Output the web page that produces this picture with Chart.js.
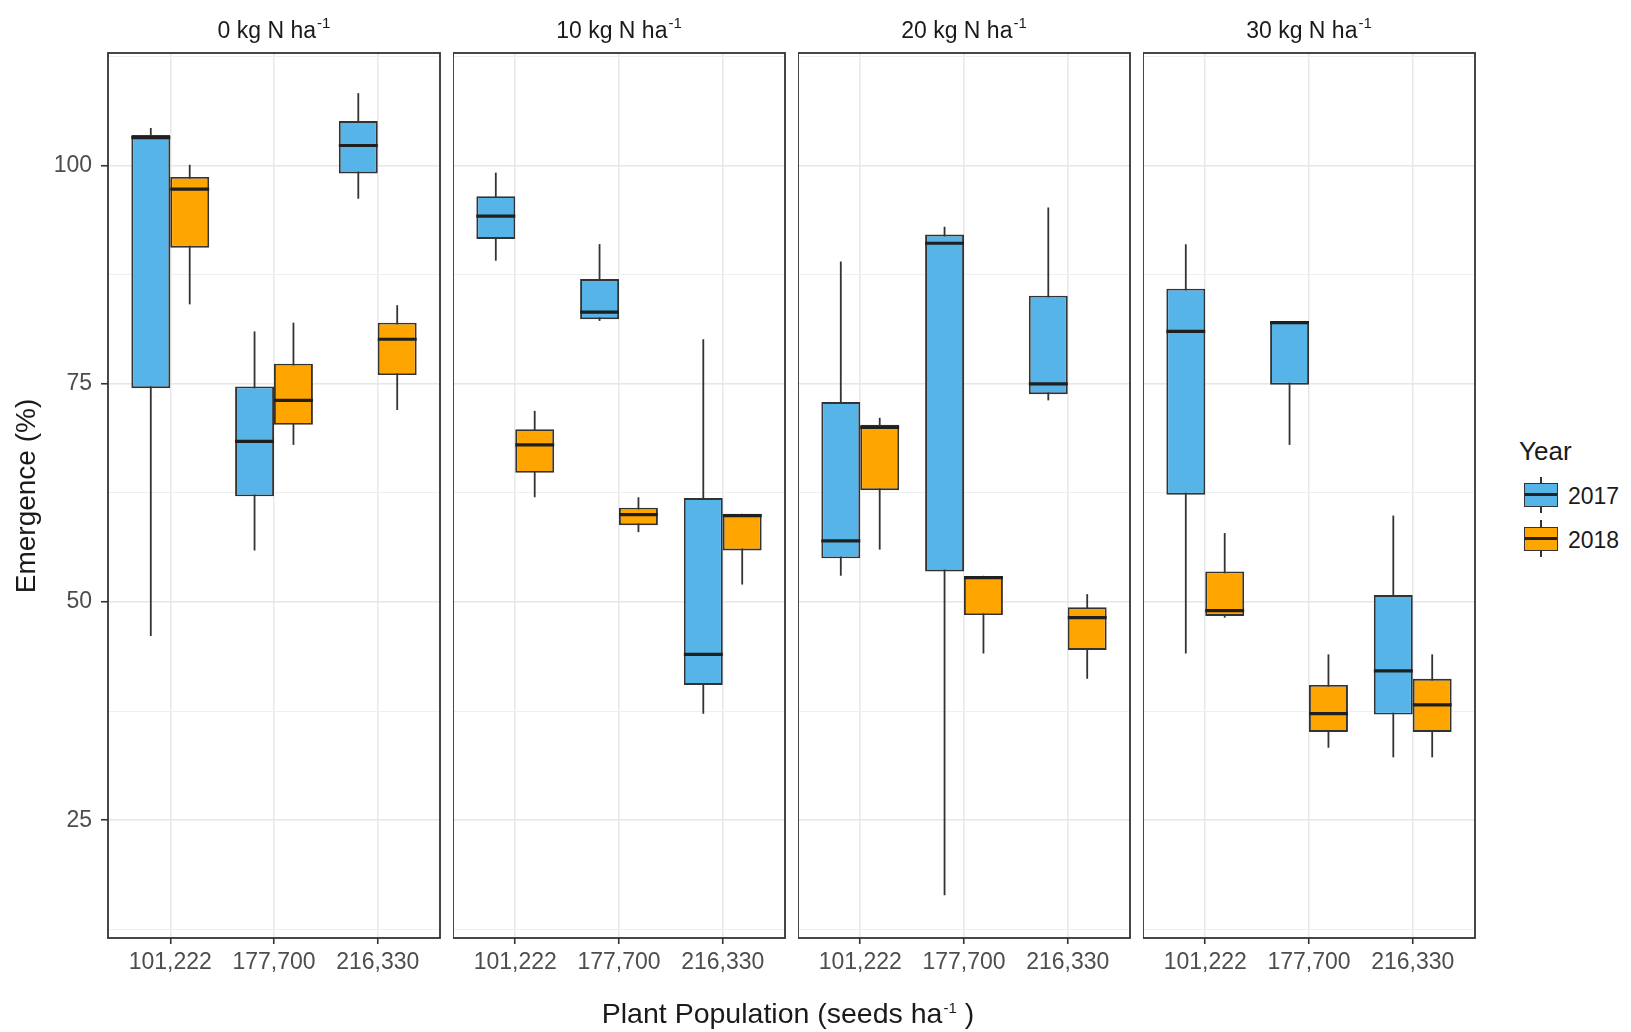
<!DOCTYPE html>
<html>
<head>
<meta charset="utf-8">
<script src="https://cdn.jsdelivr.net/npm/chart.js@4.4.0/dist/chart.umd.min.js"></script>
<style>
  body { margin: 0; background: #fff; width: 1631px; height: 1032px; position: relative; overflow: hidden;
         font-family: "Liberation Sans", Arial, sans-serif; }
  .wrap { position: absolute; }
  .strip { position: absolute; top: 15px; width: 332px; text-align: center; font-size: 23px; color: #1a1a1a; line-height: 30px; }
  .strip sup, .xtitle sup { font-size: 15px; vertical-align: 10px; line-height: 0; margin-left: 1px; }
  .ytitle { position: absolute; left: -124px; top: 480px; width: 300px; text-align: center; font-size: 28px;
            color: #1a1a1a; line-height: 32px; transform: rotate(-90deg); }
  .xtitle { position: absolute; left: 488px; top: 996px; width: 600px; text-align: center; font-size: 28.5px;
            color: #1a1a1a; line-height: 34px; }
  .legtitle { position: absolute; left: 1519px; top: 436px; font-size: 26px; color: #1a1a1a; }
  .key { position: absolute; left: 1524px; width: 34px; height: 24px; border: 1.8px solid #333; box-sizing: border-box; }
  .whisk { position: absolute; left: 1540px; width: 1.8px; background: #333; }
  .med { position: absolute; left: 0; right: 0; top: 9.3px; height: 2.6px; background: #222; }
  .leglab { position: absolute; left: 1568px; font-size: 23px; color: #1a1a1a; }
</style>
</head>
<body>
<script>
// facets, x categories and groups
const nRates = ['0', '10', '20', '30'];
const populations = ['101,222', '177,700', '216,330'];
const years = ['2017', '2018'];
const yMajor = [25, 50, 75, 100];
const yMinor = [12.5, 37.5, 62.5, 87.5, 112.5];

// [min, q1, median, q3, max] for each plant population
const n0_2017 = [[46.1, 74.5, 103.2, 103.5, 104.3], [55.9, 62.1, 68.4, 74.7, 81.0], [96.2, 99.1, 102.3, 105.1, 108.3]];
const n0_2018 = [[84.1, 90.6, 97.3, 98.7, 100.1], [68.0, 70.3, 73.1, 77.3, 82.0], [72.0, 76.0, 80.1, 82.0, 84.0]];
const n10_2017 = [[89.1, 91.6, 94.2, 96.5, 99.2], [82.2, 82.4, 83.2, 87.0, 91.0], [37.2, 40.5, 44.0, 61.9, 80.1]];
const n10_2018 = [[62.0, 64.8, 68.0, 69.8, 71.9], [58.0, 58.8, 60.0, 60.8, 62.0], [52.0, 55.9, 59.9, 60.1, 60.1]];
const n20_2017 = [[53.0, 55.0, 57.0, 72.9, 89.0], [16.4, 53.5, 91.1, 92.1, 93.0], [73.1, 73.8, 75.0, 85.1, 95.2]];
const n20_2018 = [[56.0, 62.8, 70.0, 70.3, 71.1], [44.1, 48.5, 52.8, 52.9, 53.0], [41.2, 44.5, 48.2, 49.4, 50.9]];
const n30_2017 = [[44.1, 62.3, 81.0, 85.9, 91.0], [68.0, 74.9, 82.0, 82.1, 82.1], [32.2, 37.1, 42.1, 50.8, 59.9]];
const n30_2018 = [[48.2, 48.4, 49.0, 53.5, 57.9], [33.3, 35.1, 37.2, 40.5, 44.0], [32.2, 35.1, 38.2, 41.2, 44.0]];

const panels = [[n0_2017, n0_2018], [n10_2017, n10_2018], [n20_2017, n20_2018], [n30_2017, n30_2018]];
const fills = ['#56B4E9', '#FFA500'];

// layout
const panelTop = 53, panelH = 885, panelW = 332, panelStep = 345, firstLeft = 108;
const padTop = 30, xAxisH = 60;

Chart.defaults.font.family = '"Liberation Sans", Arial, sans-serif';

const boxPlugin = {
  id: 'boxes',
  beforeDatasetsDraw(chart) {
    const ctx = chart.ctx, y = chart.scales.y;
    chart.data.datasets.forEach((ds, d) => {
      chart.getDatasetMeta(d).data.forEach((bar, i) => {
        const s = ds.stats[i];
        ctx.save();
        ctx.strokeStyle = '#333';
        ctx.lineWidth = 1.8;
        ctx.beginPath();
        ctx.moveTo(bar.x, y.getPixelForValue(s[0]));
        ctx.lineTo(bar.x, y.getPixelForValue(s[4]));
        ctx.stroke();
        ctx.restore();
      });
    });
  },
  afterDatasetsDraw(chart) {
    const ctx = chart.ctx, y = chart.scales.y, a = chart.chartArea;
    chart.data.datasets.forEach((ds, d) => {
      chart.getDatasetMeta(d).data.forEach((bar, i) => {
        const m = y.getPixelForValue(ds.stats[i][2]);
        ctx.save();
        ctx.strokeStyle = '#1f1f1f';
        ctx.lineWidth = 3.2;
        ctx.beginPath();
        ctx.moveTo(bar.x - bar.width / 2, m);
        ctx.lineTo(bar.x + bar.width / 2, m);
        ctx.stroke();
        ctx.restore();
      });
    });
    ctx.save();
    ctx.strokeStyle = '#333';
    ctx.lineWidth = 1.8;
    ctx.strokeRect(a.left, a.top, a.right - a.left, a.bottom - a.top);
    ctx.restore();
  }
};

panels.forEach((pair, k) => {
  const first = k === 0;
  const left = firstLeft + k * panelStep;
  const yW = first ? firstLeft : 0;

  const wrap = document.createElement('div');
  wrap.className = 'wrap';
  wrap.style.left = (left - yW) + 'px';
  wrap.style.top = (panelTop - padTop) + 'px';
  const canvas = document.createElement('canvas');
  canvas.width = yW + panelW + 2;
  canvas.height = padTop + panelH + xAxisH;
  wrap.appendChild(canvas);
  document.body.appendChild(wrap);

  const strip = document.createElement('div');
  strip.className = 'strip';
  strip.style.left = left + 'px';
  strip.innerHTML = nRates[k] + ' kg N ha<sup>-1</sup>';
  document.body.appendChild(strip);

  new Chart(canvas, {
    type: 'bar',
    data: {
      datasets: years.map((yr, d) => ({
        label: yr,
        stats: pair[d],
        data: pair[d].map((s, i) => ({ x: i + 1, y: [s[1], s[3]] })),
        backgroundColor: fills[d],
        borderColor: '#333',
        borderWidth: 1.9,
        borderSkipped: false
      }))
    },
    options: {
      responsive: false,
      animation: false,
      events: [],
      categoryPercentage: 0.75,
      barPercentage: 1,
      layout: { padding: { top: padTop, right: 2, left: 0, bottom: 0 } },
      plugins: { legend: { display: false }, tooltip: { enabled: false } },
      scales: {
        x: {
          type: 'linear',
          min: 0.4,
          max: 3.6,
          offset: false,
          afterBuildTicks: s => { s.ticks = [1, 2, 3].map(v => ({ value: v })); },
          afterFit: s => { s.height = xAxisH; },
          ticks: {
            callback: v => populations[v - 1],
            font: { size: 23 },
            color: '#4d4d4d',
            padding: 5,
            maxRotation: 0,
            autoSkip: false
          },
          grid: { offset: false, color: '#e8e8e8', lineWidth: 1.5, tickLength: 6, tickColor: '#333', tickWidth: 1.6 },
          border: { display: false }
        },
        y: {
          type: 'linear',
          min: 11.5,
          max: 112.9,
          afterBuildTicks: s => { s.ticks = yMinor.concat(yMajor).sort((a, b) => a - b).map(v => ({ value: v })); },
          afterFit: s => { s.width = yW; },
          ticks: {
            display: first,
            callback: v => (yMajor.includes(v) ? v : ''),
            font: { size: 23 },
            color: '#4d4d4d',
            padding: 9
          },
          grid: {
            drawTicks: first,
            tickLength: 7,
            color: c => (yMajor.includes(c.tick.value) ? '#e6e6e6' : '#efefef'),
            lineWidth: c => (yMajor.includes(c.tick.value) ? 1.5 : 1.1),
            tickColor: c => (yMajor.includes(c.tick.value) ? '#333' : 'rgba(0,0,0,0)'),
            tickWidth: 1.6
          },
          border: { display: false }
        }
      }
    },
    plugins: [boxPlugin]
  });
});
</script>
<div class="ytitle">Emergence (%)</div>
<div class="xtitle">Plant Population (seeds ha<sup>-1</sup> )</div>
<div class="legtitle">Year</div>
<div class="whisk" style="top:477px;height:36px"></div>
<div class="key" style="top:483px;background:#56B4E9"><div class="med"></div></div>
<div class="leglab" style="top:483px">2017</div>
<div class="whisk" style="top:520px;height:37px"></div>
<div class="key" style="top:527px;background:#FFA500"><div class="med"></div></div>
<div class="leglab" style="top:527px">2018</div>
</body>
</html>
